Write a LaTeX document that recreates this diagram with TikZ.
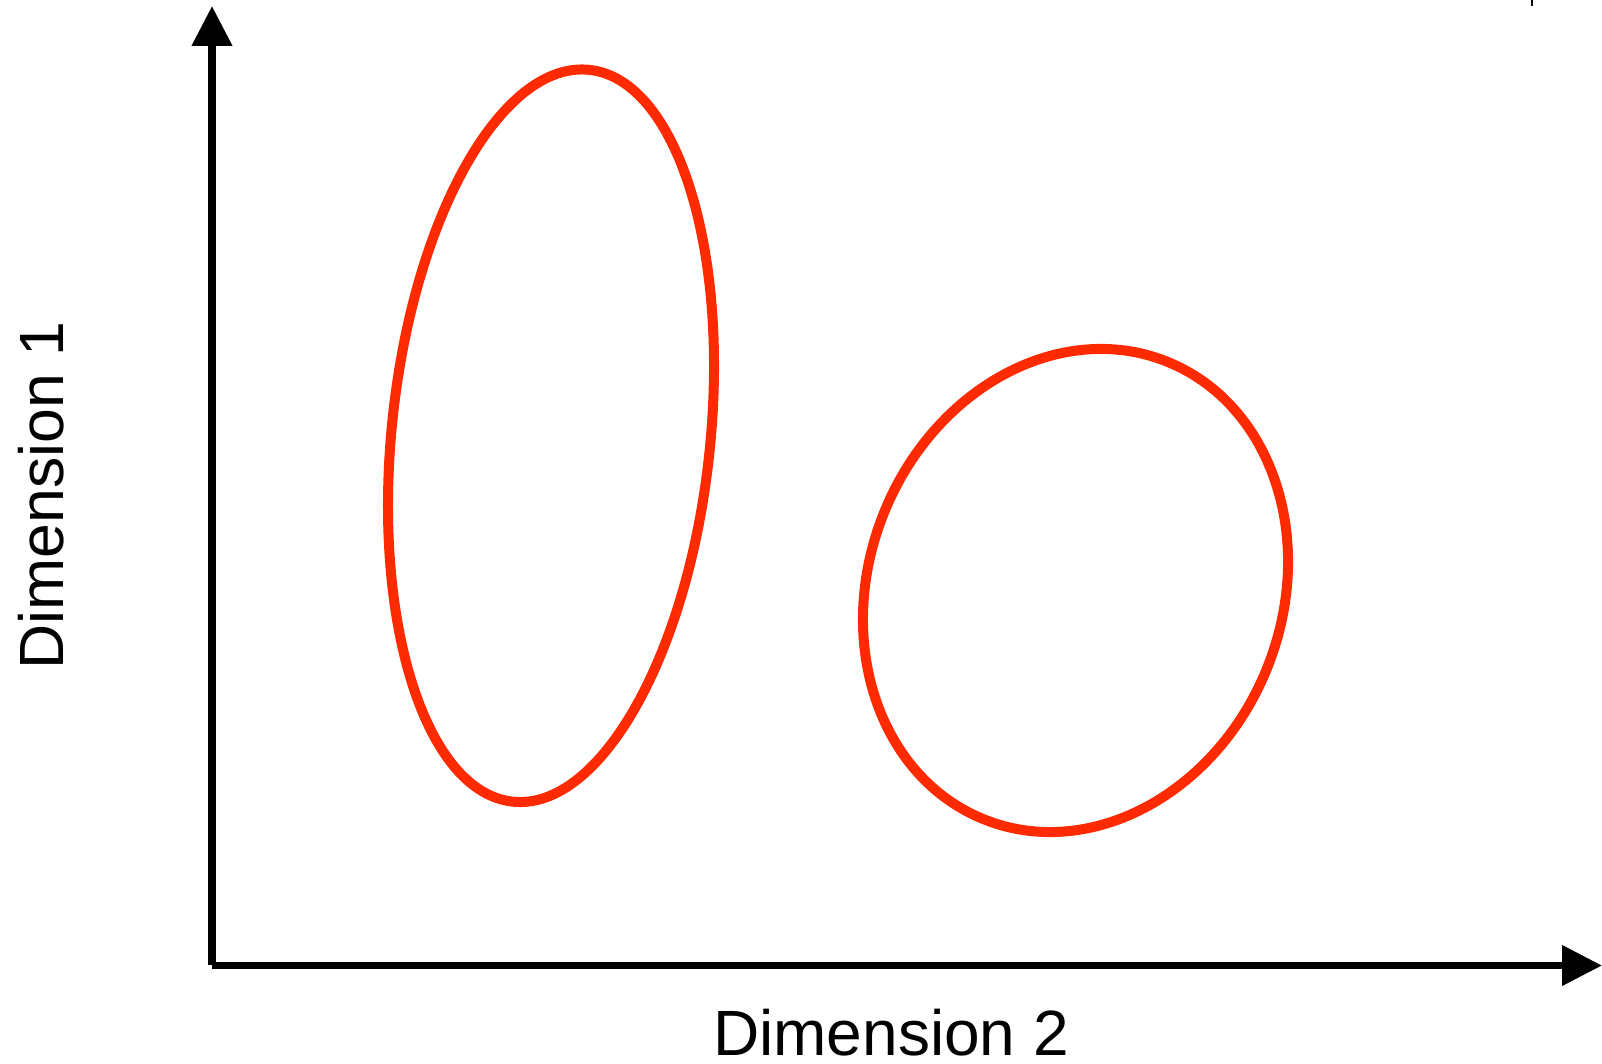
\documentclass[tikz,border=0pt]{standalone}
\usepackage{fontspec}
\setmainfont{Liberation Sans}
\usetikzlibrary{arrows.meta}
\definecolor{clusterred}{HTML}{FF2A00}
\tikzset{
  axisline/.style={line width=7.5pt, line cap=butt, -{Triangle[width=39pt,length=40pt]}},
  cluster/.style={draw=clusterred, line width=10pt},
  axislabel/.style={inner sep=0pt, text depth=0pt}
}
\begin{document}
\begin{tikzpicture}[x=1pt,y=1pt]
\useasboundingbox (0,0) rectangle (1602,1063);
\coordinate (ybase) at (212,98);
\coordinate (ytip) at (212,1057);
\coordinate (xbase) at (212,97.5);
\coordinate (xtip) at (1602,97.5);
\coordinate (c1) at (551,627.25);
\coordinate (c2) at (1075.5,472.5);
\coordinate (tickA) at (1532,1063);
\coordinate (tickB) at (1532,1057);
\draw[axisline] (ybase) -- (ytip);
\draw[axisline] (xbase) -- (xtip);
\draw[cluster] (c1) ellipse [x radius=367.9, y radius=159.3, rotate=84.04];
\draw[cluster] (c2) ellipse [x radius=246.5, y radius=206.7, rotate=68.45];
\draw[line width=2pt] (tickA) -- (tickB);
\node[axislabel, anchor=base, font=\fontsize{64}{72}\selectfont] (xlabel) at (891,8) {Dimension 2};
\node[axislabel, anchor=base, rotate=90, font=\fontsize{62.5}{72}\selectfont] (ylabel) at (63,567.5) {Dimension 1};
\end{tikzpicture}
\end{document}
